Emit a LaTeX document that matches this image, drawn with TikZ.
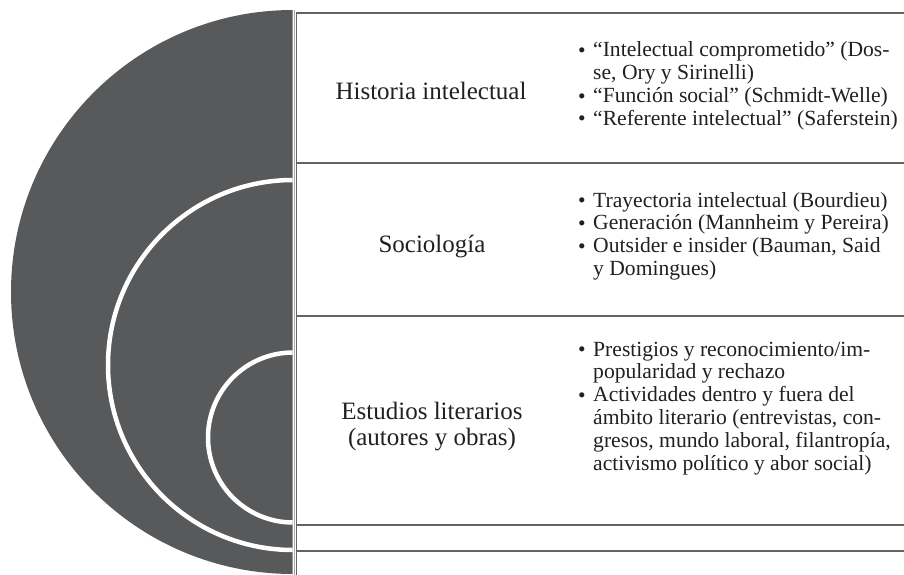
\documentclass[tikz,border=0pt]{standalone}
\usepackage{fontspec}
\setmainfont{Liberation Serif}
\definecolor{discgray}{HTML}{58595B}
\definecolor{rulegray}{HTML}{626365}
\definecolor{lightrule}{HTML}{A7A9AC}
\definecolor{txt}{HTML}{231F20}
\newcommand{\bul}{\makebox[15pt][l]{\hspace{0pt}\raisebox{-0.02em}{\textbullet}}}
\begin{document}
\begin{tikzpicture}[x=1pt,y=-1pt,
  hrule/.style={draw=rulegray,line width=2.2pt},
  labeltext/.style={font=\fontsize{25}{26}\selectfont, text=txt, inner sep=0pt, anchor=base},
  listbox/.style={font=\fontsize{21.6}{22.8}\selectfont, text=txt, inner sep=0pt, anchor=base west}]
\useasboundingbox (0,0) rectangle (904,575);
% half disc with white arcs
\begin{scope}
  \clip (0,0) rectangle (292.7,575);
  \fill[discgray] (293,292) circle[radius=282pt];
  \draw[white,line width=4.5pt] (293,365) circle[radius=185pt];
  \draw[white,line width=4.5pt] (293,437.5) circle[radius=85pt];
\end{scope}
% vertical double rule
\coordinate (lt) at (294.5,10);
\coordinate (lb) at (294.5,575);
\coordinate (dt) at (296.5,12);
\coordinate (db) at (296.5,575);
\draw[lightrule,line width=1pt] (lt) -- (lb);
\draw[rulegray,line width=1.8pt] (dt) -- (db);
% horizontal rules
\foreach \yy/\nm in {13/a,163/b,316/c,525/d,551/e}{
  \coordinate (h\nm l) at (295.6,\yy);
  \coordinate (h\nm r) at (904,\yy);
  \draw[hrule] (h\nm l) -- (h\nm r);
}
% left labels
\node[labeltext] (hist) at (431,100) {Historia intelectual};
\node[labeltext] (soc) at (432,252) {Sociología};
\node[labeltext] (est) at (432,419) {\begin{tabular}[t]{@{}c@{}}Estudios literarios\\(autores y obras)\end{tabular}};
% lists
\node[listbox] (l1) at (578,57) {\begin{tabular}[t]{@{}l@{}}
\bul“Intelectual comprometido” (Dos-\\
\hspace*{15pt}se, Ory y Sirinelli)\\
\bul“Función social” (Schmidt-Welle)\\
\bul“Referente intelectual” (Saferstein)
\end{tabular}};
\node[listbox] (l2) at (578,207) {\begin{tabular}[t]{@{}l@{}}
\bul Trayectoria intelectual (Bourdieu)\\
\bul Generación (Mannheim y Pereira)\\
\bul Outsider e insider (Bauman, Said\\
\hspace*{15pt}y Domingues)
\end{tabular}};
\node[listbox] (l3) at (578,356) {\begin{tabular}[t]{@{}l@{}}
\bul Prestigios y reconocimiento/im-\\
\hspace*{15pt}popularidad y rechazo\\
\bul Actividades dentro y fuera del\\
\hspace*{15pt}ámbito literario (entrevistas, con-\\
\hspace*{15pt}gresos, mundo laboral, filantropía,\\
\hspace*{15pt}activismo político y abor social)
\end{tabular}};
\end{tikzpicture}
\end{document}
